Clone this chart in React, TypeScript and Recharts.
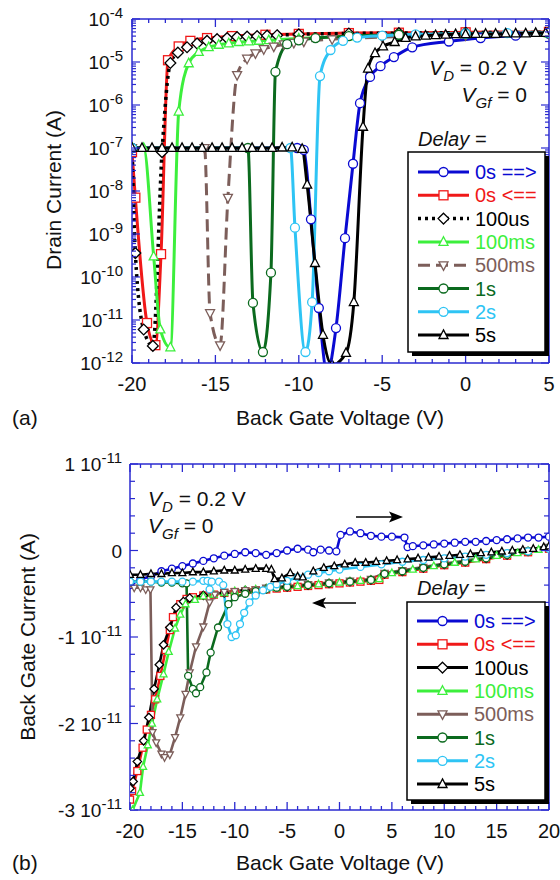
import React from 'react';
import { LineChart, Line, XAxis, YAxis } from 'recharts';

const BLUE = '#0a0ad2';
const RED = '#f01818';
const BLACK = '#000000';
const LGREEN = '#3cef3c';
const BROWN = '#7c5e5a';
const DGREEN = '#0b6a1e';
const LBLUE = '#2ec4f4';
const AXIS = '#2a2ad0';
const FONT = '"Liberation Sans", Arial, Helvetica, sans-serif';

// legend / series order
const labels = ['0s ==>', '0s <==', '100us', '100ms', '500ms', '1s', '2s', '5s'];
const colors = [BLUE, RED, BLACK, LGREEN, BROWN, DGREEN, LBLUE, BLACK];
const shapes = ['circle', 'square', 'diamond', 'up', 'down', 'circle', 'circle', 'up'];
const dashesA = ['', '', '3 4', '', '12 6', '', '', ''];

// (a) drain current (A) vs back gate voltage (V)
const a0sFwd = [[-20, 1e-7], [-10.1, 1e-7], [-9.7, 9e-8], [-9.27, 2.2e-9], [-8.8, 1.9e-11], [-8.3, 6e-13], [-7.77, 6.5e-12], [-7.23, 8e-10], [-6.75, 4.3e-8], [-6.33, 1.1e-6], [-5.73, 4.5e-6], [-5.1, 8e-6], [-4.3, 1.3e-5], [-3.2, 2.2e-5], [-1, 3e-5], [0.9, 3.6e-5], [3, 4.1e-5], [5, 4.5e-5]];
const a0sRev = [[-20, 8e-8], [-19.8, 7e-9], [-19.1, 8.5e-12], [-18.6, 2.6e-12], [-18.26, 3.4e-10], [-17.84, 1.1e-5], [-17.2, 2.3e-5], [-16.5, 3.1e-5], [-15.5, 3.6e-5], [-14, 4e-5], [-12, 4.3e-5], [-10, 4.5e-5], [-7, 4.7e-5], [-4, 4.8e-5], [0, 4.9e-5], [5, 5e-5]];
const a100us = [[-20, 1e-7], [-19.8, 3.6e-10], [-19.3, 6e-12], [-18.75, 2.5e-12], [-18.2, 8e-8], [-17.7, 9.5e-6], [-17.25, 1.65e-5], [-16.7, 2.2e-5], [-16.1, 2.7e-5], [-15.5, 3.1e-5], [-14.9, 3.4e-5], [-14.3, 3.6e-5], [-13.7, 3.8e-5], [-13.1, 3.9e-5], [-12.5, 4e-5], [-11.9, 4.1e-5], [-11.3, 4.2e-5], [-10, 4.4e-5], [-7, 4.6e-5], [-4, 4.7e-5], [0, 4.8e-5], [5, 4.9e-5]];
const a100ms = [[-20, 1e-7], [-19.3, 1e-7], [-18.7, 3e-10], [-18.3, 6e-12], [-17.7, 2.3e-12], [-17.2, 7e-7], [-16.6, 9.3e-6], [-16, 1.7e-5], [-15.4, 2.2e-5], [-14.8, 2.5e-5], [-14.2, 2.7e-5], [-13.6, 2.9e-5], [-13, 3e-5], [-12.4, 3.1e-5], [-11.8, 3.2e-5], [-11.2, 3.3e-5], [-10, 3.5e-5], [-7, 3.9e-5], [-4, 4.2e-5], [0, 4.4e-5], [5, 4.6e-5]];
const a500ms = [[-20, 1e-7], [-15.65, 1e-7], [-15.32, 1.45e-11], [-14.72, 2.6e-12], [-14.25, 7e-9], [-13.7, 5e-6], [-13.1, 1.2e-5], [-12.6, 1.6e-5], [-12.1, 2e-5], [-11.5, 2.3e-5], [-10.9, 2.6e-5], [-10.3, 2.8e-5], [-9.7, 3e-5], [-8, 3.4e-5], [-5, 3.8e-5], [0, 4.2e-5], [5, 4.5e-5]];
const a1s = [[-20, 1e-7], [-13.05, 1e-7], [-12.75, 2.5e-11], [-12.15, 1.8e-12], [-11.67, 1.26e-10], [-11.4, 5.9e-6], [-10.7, 2.6e-5], [-10, 3.2e-5], [-9, 3.6e-5], [-7, 4e-5], [-4, 4.3e-5], [0, 4.5e-5], [5, 4.7e-5]];
const a2s = [[-20, 1e-7], [-10.5, 1e-7], [-10.23, 1.4e-9], [-9.6, 1.8e-12], [-9.2, 2.6e-11], [-8.73, 4.7e-6], [-8.1, 1.9e-5], [-7.35, 3.1e-5], [-6.5, 3.7e-5], [-5, 4.1e-5], [-3, 4.4e-5], [0, 4.6e-5], [2.5, 4.7e-5], [5, 4.8e-5]];
const a5s = [[-20, 1e-7], [-19.4, 1e-7], [-18.8, 1e-7], [-18.2, 1e-7], [-17.6, 1e-7], [-17, 1e-7], [-16.4, 1e-7], [-15.8, 1e-7], [-15.2, 1e-7], [-14.6, 1e-7], [-14, 1e-7], [-13.4, 1e-7], [-12.8, 1e-7], [-12.2, 1e-7], [-11.6, 1e-7], [-11, 1.02e-7], [-10.4, 1.03e-7], [-9.8, 9.5e-8], [-9.5, 1.4e-8], [-9.03, 2.1e-10], [-8.55, 4.5e-12], [-8.0, 9e-13], [-7.17, 1.7e-12], [-6.7, 2.6e-11], [-6.15, 3.1e-7], [-5.85, 7e-6], [-5.43, 1.6e-5], [-4.95, 2.3e-5], [-4.25, 2.9e-5], [-3.6, 3.6e-5], [-3.0, 3.9e-5], [-2.4, 4.1e-5], [-1.8, 4.2e-5], [-1.2, 4.3e-5], [-0.6, 4.4e-5], [0, 4.4e-5], [0.6, 4.5e-5], [1.2, 4.5e-5], [1.8, 4.5e-5], [2.4, 4.6e-5], [3.0, 4.6e-5], [3.6, 4.6e-5], [4.2, 4.7e-5], [4.8, 4.7e-5]];

// (b) back gate current, in units of 1e-11 A
const b0sFwd = [[-20, -0.4], [-19, -0.33], [-18, -0.3], [-17, -0.24], [-16, -0.21], [-15, -0.18], [-14, -0.15], [-13, -0.12], [-12, -0.09], [-11, -0.06], [-10, -0.04], [-9, -0.02], [-8, -0.03], [-7, -0.05], [-6, -0.03], [-5, 0.0], [-4, 0.02], [-3, 0.01], [-2.5, -0.02], [-1.8, 0.01], [-1, 0.0], [-0.3, -0.01], [0.1, 0.18], [1, 0.22], [2, 0.2], [3, 0.17], [4, 0.16], [5, 0.16], [6.2, 0.15], [6.5, 0.04], [7, 0.05], [8, 0.06], [9, 0.07], [10, 0.08], [11, 0.09], [12, 0.1], [13, 0.1], [14, 0.11], [15, 0.12], [16, 0.13], [17, 0.14], [18, 0.15], [19, 0.15], [20, 0.16]];
const b0sRev = [[-20, -2.88], [-19.8, -2.78], [-19.3, -2.55], [-18.8, -2.28], [-18.4, -2.07], [-18, -1.9], [-17.6, -1.72], [-17.1, -1.45], [-16.6, -1.15], [-16.2, -0.92], [-15.9, -0.77], [-15.2, -0.62], [-14.6, -0.56], [-14, -0.54], [-13, -0.52], [-12, -0.51], [-11, -0.49], [-10, -0.48], [-9, -0.47], [-8, -0.46], [-7, -0.45], [-6, -0.44], [-5, -0.43], [-4, -0.42], [-3, -0.41], [-2, -0.4], [-1, -0.39], [0, -0.38], [1, -0.37], [2, -0.36], [3, -0.35], [3.8, -0.34], [4.3, -0.28], [6, -0.25], [8, -0.21], [10, -0.17], [12, -0.14], [14, -0.1], [16, -0.06], [18, -0.02], [20, 0.02]];
const b100us = [[-20, -2.75], [-19.7, -2.67], [-19.3, -2.44], [-18.7, -2.2], [-18.2, -1.93], [-17.7, -1.6], [-17.2, -1.32], [-16.8, -1.09], [-16.2, -0.89], [-15.6, -0.66], [-14.9, -0.59], [-14.3, -0.55], [-13, -0.52], [-11, -0.49], [-9, -0.46], [-7, -0.44], [-5, -0.42], [-3, -0.4], [-1, -0.38], [1, -0.36], [3, -0.34], [4.3, -0.27], [6, -0.24], [8, -0.2], [10, -0.16], [12, -0.13], [14, -0.09], [16, -0.05], [18, -0.01], [20, 0.03]];
const b100ms = [[-19.75, -3.0], [-19.05, -2.8], [-18.75, -2.5], [-18.3, -2.25], [-17.9, -2.0], [-17.4, -1.72], [-16.8, -1.43], [-16.3, -1.17], [-15.7, -0.9], [-15.2, -0.74], [-14.7, -0.62], [-13.8, -0.57], [-13, -0.53], [-12, -0.51], [-11, -0.49], [-10, -0.47], [-9, -0.46], [-8, -0.45], [-7, -0.44], [-6, -0.43], [-5, -0.42], [-4, -0.41], [-3, -0.4], [-2, -0.39], [-1, -0.38], [0, -0.37], [1, -0.36], [2, -0.35], [3, -0.34], [3.8, -0.33], [4.3, -0.27], [5, -0.26], [6, -0.24], [7, -0.22], [8, -0.2], [9, -0.18], [10, -0.16], [11, -0.14], [12, -0.12], [13, -0.1], [14, -0.08], [15, -0.06], [16, -0.05], [17, -0.03], [18, -0.01], [19, 0.01], [20, 0.03]];
const b500ms = [[-20, -0.38], [-19.6, -0.43], [-19, -0.43], [-18.5, -0.45], [-18.05, -0.45], [-17.85, -2.1], [-17.5, -2.22], [-17.0, -2.35], [-16.7, -2.39], [-16.2, -2.36], [-15.7, -2.16], [-15.2, -1.93], [-14.7, -1.66], [-14.3, -1.41], [-13.7, -1.11], [-13.0, -0.88], [-12.4, -0.6], [-11.9, -0.51], [-11, -0.48], [-10, -0.47], [-9, -0.46], [-8, -0.45], [-7, -0.43], [-6, -0.42], [-5, -0.41], [-3, -0.39], [-1, -0.37], [1, -0.35], [3, -0.33], [4.3, -0.26], [6, -0.23], [8, -0.19], [10, -0.15], [12, -0.12], [14, -0.08], [16, -0.04], [18, 0.0], [20, 0.04]];
const b1s = [[-20, -0.36], [-19, -0.36], [-18, -0.36], [-17, -0.37], [-16, -0.37], [-15, -0.38], [-14.6, -0.38], [-14.45, -1.45], [-14.0, -1.6], [-13.7, -1.65], [-13.3, -1.58], [-12.7, -1.41], [-12.3, -1.18], [-11.6, -0.89], [-10.6, -0.62], [-10, -0.54], [-9, -0.5], [-8, -0.47], [-7, -0.45], [-6, -0.43], [-5, -0.42], [-3, -0.4], [-1, -0.38], [1, -0.36], [3, -0.34], [4.3, -0.27], [6, -0.24], [8, -0.2], [10, -0.16], [12, -0.13], [14, -0.09], [16, -0.05], [18, -0.01], [20, 0.03]];
const b2s = [[-20, -0.36], [-19, -0.36], [-18, -0.36], [-17, -0.36], [-16, -0.36], [-15, -0.36], [-14, -0.36], [-13, -0.35], [-12.6, -0.35], [-12.4, -0.45], [-12.2, -0.36], [-11.5, -0.36], [-11.1, -0.4], [-10.7, -0.85], [-10.3, -1.0], [-9.9, -0.98], [-9.5, -0.85], [-9.1, -0.72], [-8.6, -0.6], [-8, -0.52], [-7.3, -0.46], [-6.6, -0.42], [-6, -0.39], [-5, -0.35], [-4, -0.31], [-3, -0.28], [-2, -0.26], [-1, -0.24], [0, -0.22], [2, -0.19], [4, -0.16], [6, -0.13], [8, -0.11], [10, -0.09], [12, -0.07], [14, -0.05], [16, -0.03], [18, -0.01], [20, 0.02]];
const b5s = [[-20, -0.28], [-19, -0.28], [-18, -0.27], [-17, -0.27], [-16, -0.26], [-15, -0.26], [-14, -0.25], [-13, -0.25], [-12, -0.24], [-11, -0.23], [-10, -0.23], [-9, -0.22], [-8, -0.21], [-7, -0.21], [-6.5, -0.22], [-6.2, -0.33], [-5.5, -0.32], [-4.7, -0.26], [-4, -0.3], [-3.5, -0.31], [-2.5, -0.24], [-1.5, -0.2], [-0.5, -0.18], [0.5, -0.16], [1.5, -0.14], [2.5, -0.14], [3.5, -0.13], [4.5, -0.12], [5.5, -0.11], [6.5, -0.1], [7.5, -0.09], [8.5, -0.08], [9.5, -0.07], [10.5, -0.06], [11.5, -0.05], [12.5, -0.04], [13.5, -0.03], [14.5, -0.02], [15.5, -0.01], [16.5, 0.0], [17.5, 0.01], [18.5, 0.02], [19.5, 0.04], [20, 0.05]];

const dataA = [a0sFwd, a0sRev, a100us, a100ms, a500ms, a1s, a2s, a5s];
const dataB = [b0sFwd, b0sRev, b100us, b100ms, b500ms, b1s, b2s, b5s];
const toPts = (rows: number[][]) => rows.map(([x, y]) => ({ x, y }));

// axis ticks
const xTicksA: number[] = [];
for (let v = -20; v <= 5; v++) xTicksA.push(v);
const xTicksB: number[] = [];
for (let v = -20; v <= 20; v++) xTicksB.push(v);
const decadesA = [-12, -11, -10, -9, -8, -7, -6, -5, -4];
const yTicksA: number[] = [];
decadesA.forEach((e) => {
  yTicksA.push(Math.pow(10, e));
  if (e < -4) for (let m = 2; m <= 9; m++) yTicksA.push(m * Math.pow(10, e));
});
const yTicksB: number[] = [];
for (let k = -15; k <= 5; k++) yTicksB.push(k / 5);

const Marker = ({ cx, cy, shape, color, s }: any) => {
  const h = s / 2;
  const common = { fill: '#fff', stroke: color, strokeWidth: 1.3 };
  if (shape === 'circle') return <circle cx={cx} cy={cy} r={h} {...common} />;
  if (shape === 'square') return <rect x={cx - h} y={cy - h} width={s} height={s} {...common} />;
  if (shape === 'diamond') {
    const d = h * 1.2;
    return <path d={`M${cx},${cy - d}L${cx + d},${cy}L${cx},${cy + d}L${cx - d},${cy}Z`} {...common} />;
  }
  if (shape === 'up') return <path d={`M${cx},${cy - h * 1.15}L${cx + h},${cy + h * 0.75}L${cx - h},${cy + h * 0.75}Z`} {...common} />;
  return <path d={`M${cx},${cy + h * 1.15}L${cx + h},${cy - h * 0.75}L${cx - h},${cy - h * 0.75}Z`} {...common} />;
};

const isMajorLog = (v: number) => Math.abs(Math.log10(v) - Math.round(Math.log10(v))) < 1e-6;
const isInt = (v: number) => Math.abs(v - Math.round(v)) < 1e-6;

const BottomTick = (p: any) => {
  const v = p.payload.value;
  const major = v % 5 === 0;
  return (
    <g>
      <line x1={p.x} x2={p.x} y1={p.y} y2={p.y - (major ? 8 : 4)} stroke={AXIS} strokeWidth={1.3} />
      {major && (
        <text x={p.x} y={p.y + 28} textAnchor="middle" fontSize={20} fontFamily={FONT} fill="#111">
          {v}
        </text>
      )}
    </g>
  );
};
const TopTick = (p: any) => {
  const major = p.payload.value % 5 === 0;
  return <line x1={p.x} x2={p.x} y1={p.y} y2={p.y + (major ? 8 : 4)} stroke={AXIS} strokeWidth={1.3} />;
};
const LeftTickA = (p: any) => {
  const v = p.payload.value;
  const major = isMajorLog(v);
  return (
    <g>
      <line x1={p.x} x2={p.x + (major ? 8 : 4)} y1={p.y} y2={p.y} stroke={AXIS} strokeWidth={1.2} />
      {major && (
        <text x={p.x - 9} y={p.y + 7} textAnchor="end" fontSize={19} fontFamily={FONT} fill="#111">
          <tspan>10</tspan>
          <tspan dy={-8} fontSize={15}>{`${Math.round(Math.log10(v))}`}</tspan>
        </text>
      )}
    </g>
  );
};
const RightTickA = (p: any) => {
  const major = isMajorLog(p.payload.value);
  return <line x1={p.x} x2={p.x - (major ? 8 : 4)} y1={p.y} y2={p.y} stroke={AXIS} strokeWidth={1.2} />;
};
const LeftTickB = (p: any) => {
  const v = p.payload.value;
  const major = isInt(v);
  const n = Math.round(v);
  return (
    <g>
      <line x1={p.x} x2={p.x + (major ? 8 : 5)} y1={p.y} y2={p.y} stroke={AXIS} strokeWidth={1.2} />
      {major && (
        <text x={p.x - 8} y={p.y + 7} textAnchor="end" fontSize={19} fontFamily={FONT} fill="#111">
          {n === 0 ? (
            '0'
          ) : (
            <>
              <tspan>{`${n} 10`}</tspan>
              <tspan dy={-8} fontSize={15}>-11</tspan>
            </>
          )}
        </text>
      )}
    </g>
  );
};
const RightTickB = (p: any) => {
  const major = isInt(p.payload.value);
  return <line x1={p.x} x2={p.x - (major ? 8 : 5)} y1={p.y} y2={p.y} stroke={AXIS} strokeWidth={1.2} />;
};

const axisLine = { stroke: AXIS, strokeWidth: 1.5 };

const Legend = ({ x, y, w, h, rowY, dashes }: any) => (
  <g>
    <rect x={x + 4} y={y + 4} width={w} height={h} fill="#000" />
    <rect x={x} y={y} width={w} height={h} fill="#fff" stroke="#000" strokeWidth={1.5} />
    {labels.map((l, i) => {
      const cy = rowY + i * 23.3;
      const x1 = x + 10;
      const x2 = x + 61;
      return (
        <g key={l}>
          <line x1={x1} x2={x2} y1={cy} y2={cy} stroke={colors[i]} strokeWidth={dashes[i] === '3 4' ? 3.5 : 3} strokeDasharray={dashes[i] || undefined} />
          <Marker cx={(x1 + x2) / 2} cy={cy} shape={shapes[i]} color={colors[i]} s={9} />
          <text x={x + 67} y={cy + 7} fontSize={20} fontFamily={FONT} fill={colors[i]}>
            {l}
          </text>
        </g>
      );
    })}
  </g>
);

const Cond = ({ x, y, anchor }: any) => (
  <g fontFamily={FONT} fontSize={21} fill="#111">
    <text x={x} y={y} textAnchor={anchor}>
      <tspan fontStyle="italic">V</tspan>
      <tspan fontStyle="italic" fontSize={15} dy={6}>D</tspan>
      <tspan dy={-6}> = 0.2 V</tspan>
    </text>
    <text x={x} y={y + 27} textAnchor={anchor}>
      <tspan fontStyle="italic">V</tspan>
      <tspan fontStyle="italic" fontSize={15} dy={6}>Gf</tspan>
      <tspan dy={-6}> = 0</tspan>
    </text>
  </g>
);

const dotFor = (i: number, s: number) => (p: any) => {
  if (p.cx == null || p.cy == null) return <g key={`d${p.index}`} />;
  return <Marker key={`d${p.index}`} cx={p.cx} cy={p.cy} shape={shapes[i]} color={colors[i]} s={s} />;
};

export default function App() {
  return (
    <div style={{ position: 'absolute', left: 0, top: 0, width: 560, height: 880, background: '#fff', fontFamily: FONT }}>
      <div style={{ position: 'absolute', left: 0, top: 0 }}>
        <LineChart width={560} height={440} margin={{ top: 14, right: 6, bottom: 47, left: 72 }}>
          <XAxis xAxisId="b" type="number" dataKey="x" domain={[-20, 5]} ticks={xTicksA} interval={0} height={30} tickSize={0} tickMargin={0} tickLine={false} axisLine={axisLine} tick={BottomTick} allowDataOverflow />
          <XAxis xAxisId="t" orientation="top" type="number" dataKey="x" domain={[-20, 5]} ticks={xTicksA} interval={0} height={5} tickSize={0} tickMargin={0} tickLine={false} axisLine={axisLine} tick={TopTick} allowDataOverflow />
          <YAxis yAxisId="l" scale="log" type="number" domain={[1e-12, 1e-4]} ticks={yTicksA} interval={0} width={60} tickSize={0} tickMargin={0} tickLine={false} axisLine={axisLine} tick={LeftTickA} allowDataOverflow />
          <YAxis yAxisId="r" orientation="right" scale="log" type="number" domain={[1e-12, 1e-4]} ticks={yTicksA} interval={0} width={5} tickSize={0} tickMargin={0} tickLine={false} axisLine={axisLine} tick={RightTickA} allowDataOverflow />
          {dataA.map((d, i) => (
            <Line
              key={labels[i]}
              xAxisId="b"
              yAxisId="l"
              data={toPts(d)}
              dataKey="y"
              type="monotone"
              stroke={colors[i]}
              strokeWidth={dashesA[i] === '3 4' ? 3.5 : 3}
              strokeDasharray={dashesA[i] || undefined}
              dot={dotFor(i, 9)}
              activeDot={false}
              isAnimationActive={false}
            />
          ))}
        </LineChart>
      </div>
      <div style={{ position: 'absolute', left: 0, top: 440 }}>
        <LineChart width={560} height={440} margin={{ top: 19, right: 6, bottom: 40, left: 70 }}>
          <XAxis xAxisId="b" type="number" dataKey="x" domain={[-20, 20]} ticks={xTicksB} interval={0} height={30} tickSize={0} tickMargin={0} tickLine={false} axisLine={axisLine} tick={BottomTick} allowDataOverflow />
          <XAxis xAxisId="t" orientation="top" type="number" dataKey="x" domain={[-20, 20]} ticks={xTicksB} interval={0} height={5} tickSize={0} tickMargin={0} tickLine={false} axisLine={axisLine} tick={TopTick} allowDataOverflow />
          <YAxis yAxisId="l" type="number" domain={[-3, 1]} ticks={yTicksB} interval={0} width={60} tickSize={0} tickMargin={0} tickLine={false} axisLine={axisLine} tick={LeftTickB} allowDataOverflow />
          <YAxis yAxisId="r" orientation="right" type="number" domain={[-3, 1]} ticks={yTicksB} interval={0} width={5} tickSize={0} tickMargin={0} tickLine={false} axisLine={axisLine} tick={RightTickB} allowDataOverflow />
          {dataB.map((d, i) => (
            <Line
              key={labels[i]}
              xAxisId="b"
              yAxisId="l"
              data={toPts(d)}
              dataKey="y"
              type="linear"
              stroke={colors[i]}
              strokeWidth={2.6}
              dot={dotFor(i, 7)}
              activeDot={false}
              isAnimationActive={false}
            />
          ))}
        </LineChart>
      </div>
      <svg width={560} height={880} style={{ position: 'absolute', left: 0, top: 0, pointerEvents: 'none' }}>
        {/* panel (a) */}
        <text transform="translate(61,190) rotate(-90)" textAnchor="middle" fontSize={21} fontFamily={FONT} fill="#111">
          Drain Current (A)
        </text>
        <text x={340} y={425} textAnchor="middle" fontSize={21} fontFamily={FONT} fill="#111">
          Back Gate Voltage (V)
        </text>
        <text x={12} y={425} fontSize={21} fontFamily={FONT} fill="#111">(a)</text>
        <Cond x={527} y={75} anchor="end" />
        <text x={418} y={146} fontSize={20} fontFamily={FONT} fontStyle="italic" fill="#111">Delay =</text>
        <Legend x={408} y={152} w={137} h={200} rowY={172} dashes={dashesA} />

        {/* panel (b) */}
        <text transform="translate(35,637) rotate(-90)" textAnchor="middle" fontSize={21} fontFamily={FONT} fill="#111">
          Back Gate Current (A)
        </text>
        <text x={340} y={870} textAnchor="middle" fontSize={21} fontFamily={FONT} fill="#111">
          Back Gate Voltage (V)
        </text>
        <text x={12} y={870} fontSize={21} fontFamily={FONT} fill="#111">(b)</text>
        <Cond x={148} y={506} anchor="start" />
        <line x1={356} x2={392} y1={517} y2={517} stroke="#000" strokeWidth={1.5} />
        <path d="M403,517 L389,511.5 L392,517 L389,522.5 Z" fill="#000" />
        <line x1={323} x2={356} y1={603} y2={603} stroke="#000" strokeWidth={1.5} />
        <path d="M312,603 L326,597.5 L323,603 L326,608.5 Z" fill="#000" />
        <text x={417} y={595} fontSize={20} fontFamily={FONT} fontStyle="italic" fill="#111">Delay =</text>
        <Legend x={407} y={602} w={138} h={198} rowY={621} dashes={['', '', '', '', '', '', '', '']} />
      </svg>
    </div>
  );
}
